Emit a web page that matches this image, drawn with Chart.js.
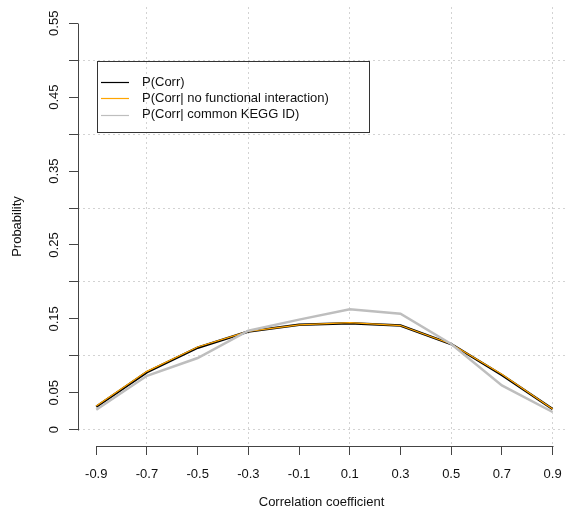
<!DOCTYPE html>
<html>
<head>
<meta charset="utf-8">
<script src="https://cdn.jsdelivr.net/npm/chart.js@4/dist/chart.umd.min.js"></script>
<style>
  html, body { margin: 0; padding: 0; background: #fff; overflow: hidden; }
  #wrap { position: relative; width: 565px; height: 523px; }
</style>
</head>
<body>
<div id="wrap"><canvas id="chart"></canvas></div>
<script>
// correlation bins
const xVals = [-0.9, -0.7, -0.5, -0.3, -0.1, 0.1, 0.3, 0.5, 0.7, 0.9];

// series
const pCorr   = [0.031, 0.078, 0.111, 0.133, 0.142, 0.144, 0.141, 0.116, 0.074, 0.028];
const pNoFunc = [0.032, 0.079, 0.112, 0.133, 0.142, 0.145, 0.141, 0.116, 0.075, 0.028];
const pKegg   = [0.027, 0.073, 0.097, 0.134, 0.149, 0.163, 0.157, 0.116, 0.060, 0.024];

const seriesLabels = [
  "P(Corr)",
  "P(Corr| no functional interaction)",
  "P(Corr| common KEGG ID)"
];

// axes
const xTicks = [-0.9, -0.7, -0.5, -0.3, -0.1, 0.1, 0.3, 0.5, 0.7, 0.9];
const xGrid = [-0.7, -0.3, 0.1, 0.5, 0.9];
const yTicks = [0, 0.05, 0.1, 0.15, 0.2, 0.25, 0.3, 0.35, 0.4, 0.45, 0.5, 0.55];
const yTickLabels = ["0", "0.05", "", "0.15", "", "0.25", "", "0.35", "", "0.45", "", "0.55"];
const yGrid = [0, 0.1, 0.2, 0.3, 0.4, 0.5];

const FONT = "'Liberation Sans', Arial, sans-serif";
const colors = ["#000000", "#ffa500", "#bebebe"];
const widths = [2.5, 1.2, 2.5];

function near(list, v) {
  return list.some(g => Math.abs(g - v) < 1e-6);
}

function pts(ys) {
  return xVals.map((x, i) => ({ x: x, y: ys[i] }));
}

// R style pieces: detached axis lines, rotated y labels, boxed legend
const rAxes = {
  id: "rAxes",
  afterDraw(chart) {
    const ctx = chart.ctx;
    const xs = chart.scales.x, ys = chart.scales.y;
    const area = chart.chartArea;
    ctx.save();
    ctx.strokeStyle = "#444";
    ctx.lineWidth = 1;
    ctx.beginPath();
    ctx.moveTo(Math.round(xs.getPixelForValue(xTicks[0])) + 0.5, area.bottom + 0.5);
    ctx.lineTo(Math.round(xs.getPixelForValue(xTicks[xTicks.length - 1])) + 0.5, area.bottom + 0.5);
    ctx.moveTo(area.left + 0.5, Math.round(ys.getPixelForValue(yTicks[0])) + 0.5);
    ctx.lineTo(area.left + 0.5, Math.round(ys.getPixelForValue(yTicks[yTicks.length - 1])) + 0.5);
    ctx.stroke();

    // y tick labels, vertical like R
    ctx.fillStyle = "#111";
    ctx.font = "13px " + FONT;
    ctx.textAlign = "center";
    ctx.textBaseline = "middle";
    ys.ticks.forEach(t => {
      if (!t.label) return;
      const py = ys.getPixelForValue(t.value);
      ctx.save();
      ctx.translate(54, py);
      ctx.rotate(-Math.PI / 2);
      ctx.fillText(t.label, 0, 0);
      ctx.restore();
    });

    // legend
    const bx = 97, by = 61, bw = 272, bh = 71;
    ctx.strokeStyle = "#333";
    ctx.strokeRect(bx + 0.5, by + 0.5, bw, bh);
    ctx.textAlign = "left";
    chart.data.datasets.forEach((ds, i) => {
      const ry = 82 + i * 16.3;
      ctx.strokeStyle = ds.borderColor;
      ctx.lineWidth = 1.2;
      ctx.beginPath();
      ctx.moveTo(101, Math.round(ry) + 0.5);
      ctx.lineTo(129, Math.round(ry) + 0.5);
      ctx.stroke();
      ctx.fillStyle = "#111";
      ctx.fillText(ds.label, 142, ry);
    });
    ctx.restore();
  }
};

new Chart(document.getElementById("chart"), {
  type: "line",
  data: {
    datasets: [
      { label: seriesLabels[0], data: pts(pCorr), borderColor: colors[0], borderWidth: widths[0], order: 3 },
      { label: seriesLabels[1], data: pts(pNoFunc), borderColor: colors[1], borderWidth: widths[1], order: 2 },
      { label: seriesLabels[2], data: pts(pKegg), borderColor: colors[2], borderWidth: widths[2], order: 1 }
    ]
  },
  options: {
    responsive: true,
    maintainAspectRatio: false,
    animation: false,
    elements: { point: { radius: 0 }, line: { tension: 0, fill: false } },
    layout: { padding: { top: 7, left: 0, right: 0, bottom: 0 } },
    plugins: { legend: { display: false }, tooltip: { enabled: false } },
    scales: {
      x: {
        type: "linear",
        min: -0.972,
        max: 0.949,
        afterBuildTicks: s => { s.ticks = xTicks.map(v => ({ value: v })); },
        afterFit: s => { s.height = 77; s.paddingLeft = 0; s.paddingRight = 0; },
        border: { display: false, dash: [2, 3] },
        grid: {
          color: c => (c.tick && near(xGrid, c.tick.value)) ? "#d3d3d3" : "rgba(0,0,0,0)",
          drawTicks: true,
          tickLength: 9,
          tickColor: "#444",
          tickWidth: 1,
          tickBorderDash: []
        },
        ticks: {
          autoSkip: false,
          maxRotation: 0,
          padding: 12,
          color: "#111",
          font: { family: FONT, size: 13 },
          callback: v => v.toFixed(1)
        },
        title: {
          display: true,
          text: "Correlation coefficient",
          color: "#111",
          font: { family: FONT, size: 13 },
          padding: { top: 0, bottom: 13 }
        }
      },
      y: {
        min: -0.022,
        max: 0.572,
        afterBuildTicks: s => { s.ticks = yTicks.map(v => ({ value: v })); },
        afterFit: s => { s.width = 78; s.paddingTop = 0; s.paddingBottom = 0; },
        border: { display: false, dash: [2, 3] },
        grid: {
          color: c => (c.tick && near(yGrid, c.tick.value)) ? "#d3d3d3" : "rgba(0,0,0,0)",
          drawTicks: true,
          tickLength: 9,
          tickColor: "#444",
          tickWidth: 1,
          tickBorderDash: []
        },
        ticks: {
          display: false,
          callback: (v, i) => yTickLabels[i]
        },
        title: {
          display: true,
          text: "Probability",
          color: "#111",
          font: { family: FONT, size: 13 },
          padding: { top: 10, bottom: 0 }
        }
      }
    }
  },
  plugins: [rAxes]
});
</script>
</body>
</html>
